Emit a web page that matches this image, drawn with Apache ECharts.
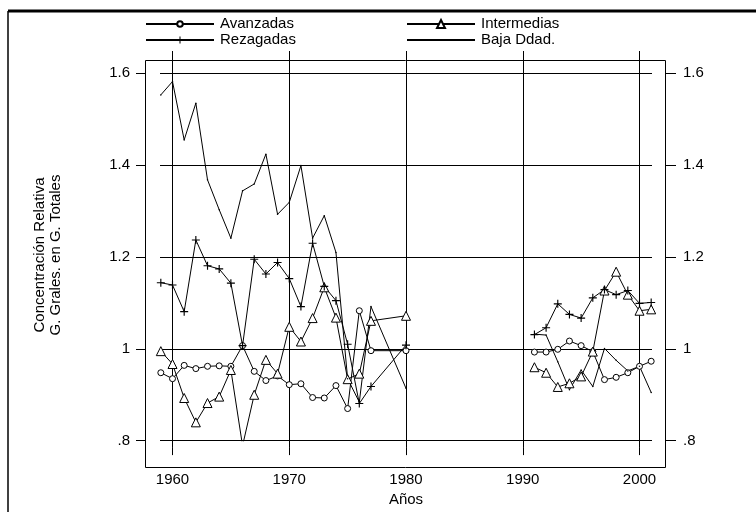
<!DOCTYPE html>
<html><head><meta charset="utf-8">
<script src="https://cdn.jsdelivr.net/npm/echarts/dist/echarts.min.js"></script>
<style>html,body{margin:0;padding:0;background:#fff}#c{width:756px;height:512px}</style>
</head><body><div id="c"></div>
<script>
// ---- data ----
const years1 = [1959,1960,1961,1962,1963,1964,1965,1966,1967,1968,1969,1970,1971,1972,1973,1974,1975,1976,1977,1980];
const years2 = [1991,1992,1993,1994,1995,1996,1997,1998,1999,2000,2001];

const avanzadas1 = [0.948,0.935,0.964,0.957,0.962,0.963,0.962,1.007,0.951,0.931,0.941,0.922,0.924,0.894,0.893,0.920,0.870,1.083,0.996,0.996];
const avanzadas2 = [0.993,0.993,0.999,1.017,1.007,0.994,0.933,0.938,0.948,0.962,0.973];

const intermedias1 = [0.995,0.967,0.893,0.840,0.882,0.896,0.954,0.789,0.900,0.976,0.946,1.048,1.016,1.067,1.134,1.068,0.934,0.946,1.061,1.072];
const intermedias2 = [0.960,0.948,0.917,0.925,0.940,0.994,1.127,1.168,1.118,1.083,1.086];

const rezagadas1 = [1.144,1.139,1.081,1.237,1.181,1.174,1.143,1.007,1.195,1.163,1.188,1.153,1.092,1.230,1.136,1.105,1.010,0.881,0.918,1.008];
const rezagadas2 = [1.031,1.046,1.098,1.075,1.067,1.111,1.129,1.118,1.127,1.099,1.101];

const baja1 = [1.553,1.582,1.455,1.535,1.368,1.303,1.241,1.344,1.359,1.424,1.293,1.319,1.399,1.241,1.290,1.210,0.935,0.884,1.092,0.914];
const baja2 = [1.032,1.030,0.972,0.911,0.954,0.918,1.001,0.975,0.952,0.962,0.905];

const seriesNames = ['Avanzadas','Intermedias','Rezagadas','Baja Ddad.'];
const yTickValues = [0.8,1.0,1.2,1.4,1.6];
const yTickLabels = ['.8','1','1.2','1.4','1.6'];
const xTitle = 'Años';
const yTitle = ['Concentración Relativa','G. Grales. en G. Totales'];

// ---- build ----
function build(v1, v2){
  const out = years1.map((y,i)=>[y, v1[i]]);
  out.push([1985,'-']);
  years2.forEach((y,i)=>out.push([y, v2[i]]));
  return out;
}
function yLabel(v){
  for (let i=0;i<yTickValues.length;i++) if (Math.abs(v-yTickValues[i])<1e-6) return yTickLabels[i];
  return '';
}
const font = '"Liberation Sans", Arial, Helvetica, sans-serif';
const FS = 15;
const perYear = (639.5-172.5)/40;
const xMin = 1960 - (172.5-160)/perYear;
const xMax = 2000 + (652-639.5)/perYear;
const plusPath = 'path://M3,0h1v3h3v1h-3v3h-1v-3h-3v-1h3z';
const black = '#000';
const txt = {color:black, fontSize:FS, fontFamily:font};

function lineSeries(name, data, symbol, size, hollow){
  return {
    type:'line', name, data, xAxisIndex:0, yAxisIndex:0,
    symbol, symbolSize:size, showSymbol:true, connectNulls:false,
    lineStyle:{color:black, width:1},
    itemStyle: hollow ? {color:'#fff', borderColor:black, borderWidth:1}
                      : {color:black, borderWidth:0},
    emphasis:{disabled:true}, silent:true
  };
}
function legendItem(name, left, centerY, h){
  return {data:[name], orient:'horizontal', left, top:centerY-9, padding:0,
    itemWidth:68, itemHeight:h, itemGap:0, selectedMode:false,
    textStyle:{...txt, lineHeight:18, padding:[0,0,0,1]}};
}

const chart = echarts.init(document.getElementById('c'), null, {renderer:'canvas'});
chart.setOption({
  animation:false,
  textStyle:{fontFamily:font},
  grid:[
    {left:160, right:756-652, top:73.3, bottom:512-440.7},
    {left:172.5, right:756-639.5, top:60, bottom:512-455}
  ],
  xAxis:[
    {gridIndex:0, type:'value', min:xMin, max:xMax, show:false},
    {gridIndex:1, type:'value', min:1960, max:2000, interval:10, position:'bottom', offset:13,
      axisLine:{show:false}, axisTick:{show:true, length:8, lineStyle:{color:black}},
      axisLabel:{margin:12, formatter:v=>String(v), ...txt},
      splitLine:{show:true, lineStyle:{color:black, width:1}},
      name:xTitle, nameLocation:'middle', nameGap:29, nameTextStyle:txt},
    {gridIndex:1, type:'value', min:1960, max:2000, interval:10, position:'top', offset:0,
      axisLine:{show:false}, axisTick:{show:true, length:9, lineStyle:{color:black}},
      axisLabel:{show:false}, splitLine:{show:false}}
  ],
  yAxis:[
    {gridIndex:0, type:'value', min:0.8, max:1.6, interval:0.2, position:'left', offset:14,
      axisLine:{show:false}, axisTick:{show:true, length:10, lineStyle:{color:black}},
      axisLabel:{margin:16, formatter:yLabel, ...txt},
      splitLine:{show:true, lineStyle:{color:black, width:1}}},
    {gridIndex:0, type:'value', min:0.8, max:1.6, interval:0.2, position:'right', offset:14,
      axisLine:{show:false}, axisTick:{show:true, length:10, lineStyle:{color:black}},
      axisLabel:{margin:17, formatter:yLabel, ...txt},
      splitLine:{show:false}},
    {gridIndex:1, type:'value', min:0, max:1, show:false}
  ],
  legend:[
    legendItem(seriesNames[0], 145, 24, 7),
    legendItem(seriesNames[2], 145, 40, 9),
    legendItem(seriesNames[1], 406, 24, 10),
    legendItem(seriesNames[3], 406, 40, 2.5)
  ],
  graphic:[
    {type:'rect', silent:true, shape:{x:145.5, y:60.5, width:520, height:407}, style:{fill:null, stroke:black, lineWidth:1}},
    {type:'line', silent:true, shape:{x1:8, y1:11, x2:756, y2:11}, style:{stroke:black, lineWidth:3}},
    {type:'line', silent:true, shape:{x1:8, y1:11, x2:8, y2:512}, style:{stroke:black, lineWidth:1.5}},
    {type:'text', silent:true, x:48, y:255, rotation:Math.PI/2,
      style:{text:yTitle.join('\n'), fill:black, font:FS+'px '+font, align:'center', verticalAlign:'middle', lineHeight:16}}
  ],
  series:[
    lineSeries(seriesNames[0], build(avanzadas1, avanzadas2), 'circle', 6, true),
    lineSeries(seriesNames[1], build(intermedias1, intermedias2), 'triangle', 9, true),
    lineSeries(seriesNames[2], build(rezagadas1, rezagadas2), plusPath, 8, false),
    lineSeries(seriesNames[3], build(baja1, baja2), 'circle', 1.5, false)
  ]
});
</script>
</body></html>
